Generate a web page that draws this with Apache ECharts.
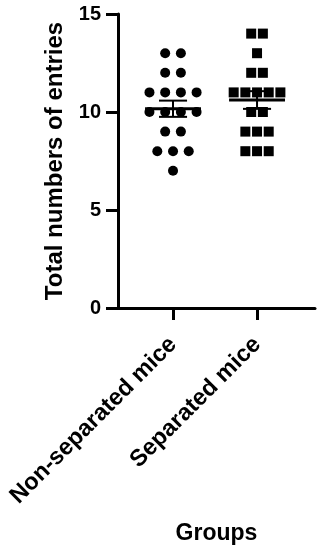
<!DOCTYPE html>
<html>
<head>
<meta charset="utf-8">
<script src="https://cdn.jsdelivr.net/npm/echarts@6/dist/echarts.min.js"></script>
<style>
  html, body { margin: 0; padding: 0; background: #fff; }
  #main { width: 321px; height: 550px; }
</style>
</head>
<body>
<div id="main"></div>
<script>
// groups on the x axis
var groups = ['Non-separated mice', 'Separated mice']
// entries per mouse
var nonSeparated = [13, 13, 12, 12, 11, 11, 11, 11, 10, 10, 10, 10, 9, 9, 8, 8, 8, 7]
var separated = [14, 14, 13, 12, 12, 11, 11, 11, 11, 11, 10, 10, 9, 9, 9, 8, 8, 8]
var yTicks = [0, 5, 10, 15]

// spread equal values side by side around the group centre
function spread (values, center, step) {
  var counts = {}
  values.forEach(function (v) { counts[v] = (counts[v] || 0) + 1 })
  var seen = {}
  return values.map(function (v) {
    var i = seen[v] || 0
    seen[v] = i + 1
    return [center + (i - (counts[v] - 1) / 2) * step, v]
  })
}

function meanSem (values, x) {
  var n = values.length
  var mean = values.reduce(function (a, b) { return a + b }, 0) / n
  var ss = values.reduce(function (a, b) { return a + (b - mean) * (b - mean) }, 0)
  var sem = Math.sqrt(ss / (n - 1)) / Math.sqrt(n)
  return [x, mean, mean - sem, mean + sem]
}

var font = 'Liberation Sans, Arial, sans-serif'
var chart = echarts.init(document.getElementById('main'))

chart.setOption({
  backgroundColor: '#fff',
  animation: false,
  grid: { left: 118, right: 6, top: 14, bottom: 242, containLabel: false, outerBoundsMode: 'none' },
  xAxis: {
    type: 'value',
    min: 0.345,
    max: 2.69,
    name: 'Groups',
    nameLocation: 'middle',
    nameGap: 214,
    nameTextStyle: { color: '#000', fontSize: 23, fontWeight: 'bold', fontFamily: font, verticalAlign: 'top' },
    splitLine: { show: false },
    axisLine: { onZero: false, lineStyle: { color: '#000', width: 3 } },
    axisTick: { show: true, inside: false, customValues: [1, 2], length: 12, lineStyle: { color: '#000', width: 3 } },
    axisLabel: {
      customValues: [1, 2],
      formatter: function (v) { return groups[Math.round(v) - 1] },
      rotate: 45,
      margin: 33,
      color: '#000',
      fontSize: 23.5,
      fontWeight: 'bold',
      fontFamily: font
    }
  },
  yAxis: {
    type: 'value',
    min: 0,
    max: 15,
    interval: 5,
    name: 'Total numbers of entries',
    nameLocation: 'middle',
    nameGap: 50,
    nameTextStyle: { color: '#000', fontSize: 24, fontWeight: 'bold', fontFamily: font },
    splitLine: { show: false },
    axisLine: { show: true, onZero: false, lineStyle: { color: '#000', width: 3 } },
    axisTick: { show: true, inside: false, length: 12, lineStyle: { color: '#000', width: 3 } },
    axisLabel: {
      margin: 17,
      color: '#000',
      fontSize: 20,
      fontWeight: 'bold',
      fontFamily: font,
      formatter: function (v) { return yTicks.indexOf(v) >= 0 ? String(v) : '' }
    }
  },
  series: [
    {
      type: 'scatter',
      symbol: 'circle',
      symbolSize: 10,
      itemStyle: { color: '#000', opacity: 1 },
      data: spread(nonSeparated, 1, 0.187)
    },
    {
      type: 'scatter',
      symbol: 'rect',
      symbolSize: 10,
      itemStyle: { color: '#000', opacity: 1 },
      data: spread(separated, 2, 0.139)
    },
    {
      type: 'custom',
      z: 5,
      data: [meanSem(nonSeparated, 1), meanSem(separated, 2)],
      renderItem: function (params, api) {
        var x = api.value(0)
        var m = api.value(1)
        var lo = api.value(2)
        var hi = api.value(3)
        var ml = api.coord([x - 0.333, m])
        var mr = api.coord([x + 0.333, m])
        var t = api.coord([x, hi])
        var b = api.coord([x, lo])
        var tl = api.coord([x - 0.167, hi])
        var tr = api.coord([x + 0.167, hi])
        var bl = api.coord([x - 0.167, lo])
        var br = api.coord([x + 0.167, lo])
        var thin = { stroke: '#000', lineWidth: 2 }
        return {
          type: 'group',
          children: [
            { type: 'line', shape: { x1: t[0], y1: t[1], x2: b[0], y2: b[1] }, style: thin },
            { type: 'line', shape: { x1: tl[0], y1: tl[1], x2: tr[0], y2: tr[1] }, style: thin },
            { type: 'line', shape: { x1: bl[0], y1: bl[1], x2: br[0], y2: br[1] }, style: thin },
            { type: 'line', shape: { x1: ml[0], y1: ml[1], x2: mr[0], y2: mr[1] }, style: { stroke: '#000', lineWidth: 3 } }
          ]
        }
      }
    }
  ]
})
</script>
</body>
</html>
